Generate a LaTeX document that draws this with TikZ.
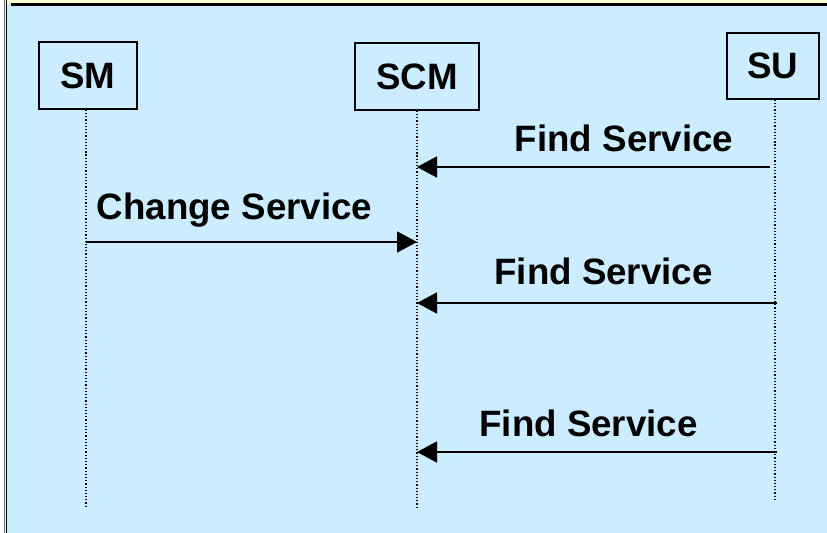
\documentclass[tikz,border=0pt]{standalone}
\usepackage{fontspec}
\setmainfont{Liberation Sans}
\usetikzlibrary{arrows.meta}
\definecolor{panelblue}{HTML}{CCECFF}
\definecolor{paleyellow}{HTML}{FFFFC8}
\tikzset{
  actor/.style={draw=black, line width=1.6bp, fill=panelblue, inner sep=0pt,
    font=\fontsize{36.7bp}{40bp}\selectfont\bfseries},
  lifeline/.style={black, line width=1.2bp, dotted},
  msg/.style={black, line width=1.8bp, -{Triangle[length=20bp,width=21bp]}},
  msglabel/.style={anchor=base, inner sep=0pt,
    font=\fontsize{36.7bp}{40bp}\selectfont\bfseries},
}
\begin{document}
\begin{tikzpicture}[x=1bp, y=-1bp]
  % canvas
  \useasboundingbox (0,0) rectangle (827,533);
  \fill[white] (0,0) rectangle (827,533);
  \fill[panelblue] (6,4) rectangle (827,533);
  \fill[paleyellow] (8,0) rectangle (827,3.5);
  \draw[black, line width=2.2bp] (11,4.6) -- (827,4.6);
  \draw[black!60, line width=1bp] (4.5,0) -- (4.5,533);
  \draw[black, line width=1.6bp] (6.3,0) -- (6.3,533);

  % participants
  \node[actor, minimum width=98bp, minimum height=67bp] (sm) at (88,75.5) {SM};
  \node[actor, minimum width=124bp, minimum height=67bp] (scm) at (417,76.5) {SCM};
  \node[actor, minimum width=92bp, minimum height=66bp] (su) at (773,66) {SU};

  % lifeline ends
  \coordinate (smEnd) at (86,507);
  \coordinate (scmEnd) at (417,508);
  \coordinate (suEnd) at (775,501);
  \draw[lifeline] (sm.south -| smEnd) -- (smEnd);
  \draw[lifeline] (scm.south -| scmEnd) -- (scmEnd);
  \draw[lifeline] (su.south -| suEnd) -- (suEnd);

  % message end points on the lifelines
  \coordinate (su1) at (770,167);
  \coordinate (scm1) at (417,167);
  \coordinate (sm2) at (86,242);
  \coordinate (scm2) at (417,242);
  \coordinate (su3) at (777,303);
  \coordinate (scm3) at (417,303);
  \coordinate (su4) at (777,452);
  \coordinate (scm4) at (417,452);

  % messages
  \draw[msg] (su1) -- (scm1);
  \draw[msg] (sm2) -- (scm2);
  \draw[msg] (su3) -- (scm3);
  \draw[msg] (su4) -- (scm4);

  % message labels
  \node[msglabel] (l1) at (624,152) {Find Service};
  \node[msglabel] (l2) at (234.5,220) {Change Service};
  \node[msglabel] (l3) at (603.5,284.5) {Find Service};
  \node[msglabel] (l4) at (588.5,436) {Find Service};
\end{tikzpicture}
\end{document}
